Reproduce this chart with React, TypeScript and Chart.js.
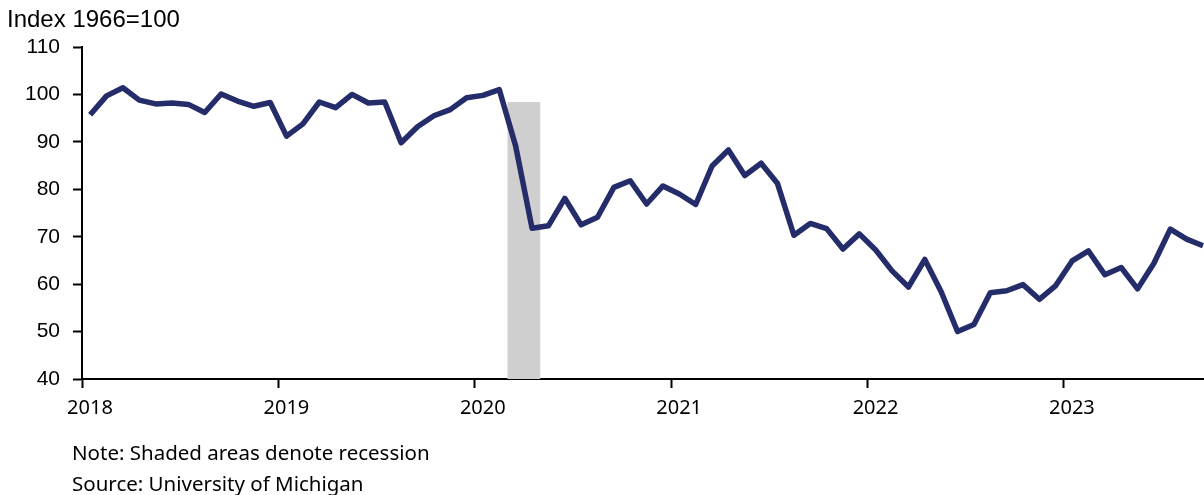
import React, { useEffect, useRef } from "react";
import { Chart, registerables } from "chart.js";

Chart.register(...registerables);

// ---- Data (University of Michigan consumer sentiment, monthly) ----
const startYear = 2018;
const yearTicks = [0, 12, 24, 36, 48, 60]; // month index of each January
const yTickValues = [40, 50, 60, 70, 80, 90, 100, 110];

const sentiment2018 = [95.7, 99.7, 101.4, 98.8, 98.0, 98.2, 97.9, 96.2, 100.1, 98.6, 97.5, 98.3];
const sentiment2019 = [91.2, 93.8, 98.4, 97.2, 100.0, 98.2, 98.4, 89.8, 93.2, 95.5, 96.8, 99.3];
const sentiment2020 = [99.8, 101.0, 89.1, 71.8, 72.3, 78.1, 72.5, 74.1, 80.4, 81.8, 76.9, 80.7];
const sentiment2021 = [79.0, 76.8, 84.9, 88.3, 82.9, 85.5, 81.2, 70.3, 72.8, 71.7, 67.4, 70.6];
const sentiment2022 = [67.2, 62.8, 59.4, 65.2, 58.4, 50.0, 51.5, 58.2, 58.6, 59.9, 56.8, 59.7];
const sentiment2023 = [64.9, 67.0, 62.0, 63.5, 59.0, 64.4, 71.6, 69.5, 68.1];

const sentiment = [
  ...sentiment2018,
  ...sentiment2019,
  ...sentiment2020,
  ...sentiment2021,
  ...sentiment2022,
  ...sentiment2023,
];

// Recession shading: Mar 2020 through Apr 2020 (month indexes, end exclusive)
const recessionStart = 26;
const recessionEnd = 28;
const recessionTop = 98.4;

const xMax = 68.56;

const recessionPlugin = {
  id: "recession",
  beforeDatasetsDraw(chart: any) {
    const { ctx, scales, chartArea } = chart;
    const x0 = scales.x.getPixelForValue(recessionStart);
    const x1 = scales.x.getPixelForValue(recessionEnd);
    const yTop = scales.y.getPixelForValue(recessionTop);
    ctx.save();
    ctx.fillStyle = "#D0CFD0";
    ctx.fillRect(x0, yTop, x1 - x0, chartArea.bottom - yTop);
    ctx.restore();
  },
};

export default function App() {
  const canvasRef = useRef<HTMLCanvasElement | null>(null);

  useEffect(() => {
    document.body.style.margin = "0";
    const canvas = canvasRef.current;
    if (!canvas) return;
    const chart = new Chart(canvas, {
      type: "line",
      data: {
        datasets: [
          {
            data: sentiment.map((v, i) => ({ x: i + 0.5, y: v })),
            borderColor: "#252C6A",
            borderWidth: 5.5,
            pointRadius: 0,
            tension: 0,
            borderJoinStyle: "round",
            borderCapStyle: "butt",
            fill: false,
          },
        ],
      },
      options: {
        animation: false,
        responsive: false,
        maintainAspectRatio: false,
        layout: { padding: { top: 47, left: 0, right: 0, bottom: 0 } },
        plugins: {
          legend: { display: false },
          tooltip: { enabled: false },
          title: { display: false },
        },
        scales: {
          x: {
            type: "linear",
            min: 0,
            max: xMax,
            afterBuildTicks(scale: any) {
              scale.ticks = yearTicks.map((v) => ({ value: v }));
            },
            afterFit(scale: any) {
              scale.height = 116;
            },
            border: { display: true, color: "#000000", width: 2 },
            grid: {
              display: true,
              drawOnChartArea: false,
              drawTicks: true,
              tickLength: 9,
              tickWidth: 2,
              tickColor: "#000000",
            },
            ticks: {
              autoSkip: false,
              maxRotation: 0,
              minRotation: 0,
              labelOffset: 8,
              padding: 8,
              color: "#000000",
              font: { family: "'Noto Sans', sans-serif", size: 20 },
              callback: (v: any) => String(startYear + Math.round(Number(v) / 12)),
            },
          },
          y: {
            type: "linear",
            min: 40,
            max: 110,
            afterBuildTicks(scale: any) {
              scale.ticks = yTickValues.map((v) => ({ value: v }));
            },
            afterFit(scale: any) {
              scale.width = 82;
            },
            border: { display: true, color: "#000000", width: 2 },
            grid: {
              display: true,
              drawOnChartArea: false,
              drawTicks: true,
              tickLength: 9,
              tickWidth: 2,
              tickColor: "#000000",
            },
            ticks: {
              padding: 13,
              color: "#000000",
              font: { family: "'Liberation Sans', Arial, sans-serif", size: 21 },
            },
          },
        },
      },
      plugins: [recessionPlugin],
    } as any);
    return () => chart.destroy();
  }, []);

  return (
    <div style={{ position: "absolute", left: 0, top: 0, width: 1204, height: 495, background: "#ffffff", overflow: "hidden" }}>
      <canvas ref={canvasRef} width={1204} height={495} style={{ position: "absolute", left: 0, top: 0, width: 1204, height: 495 }} />
      <div
        style={{
          position: "absolute",
          left: 7,
          top: 7,
          fontFamily: "'Liberation Sans', Arial, sans-serif",
          fontSize: 24,
          lineHeight: "24px",
          color: "#000000",
          whiteSpace: "nowrap",
        }}
      >
        Index 1966=100
      </div>
      <div
        style={{
          position: "absolute",
          left: 72,
          top: 437,
          fontFamily: "'Noto Sans', sans-serif",
          fontSize: 20.5,
          lineHeight: "31px",
          color: "#000000",
          whiteSpace: "nowrap",
        }}
      >
        <div style={{ height: 31 }}>Note: Shaded areas denote recession</div>
        <div style={{ height: 31 }}>Source: University of Michigan</div>
      </div>
    </div>
  );
}
